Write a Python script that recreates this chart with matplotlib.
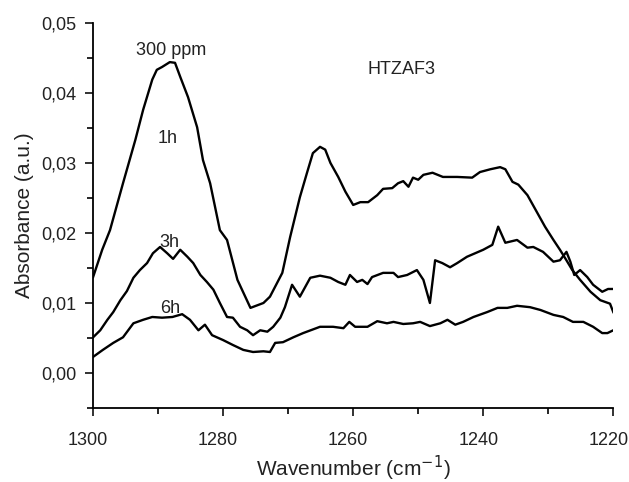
import matplotlib
matplotlib.use("Agg")
import matplotlib.pyplot as plt
import matplotlib.transforms as mtransforms
from matplotlib.ticker import MultipleLocator, FuncFormatter

plt.rcParams['font.family'] = ['Liberation Sans', 'DejaVu Sans']

# Spectra (wavenumber in cm-1, absorbance in a.u.)
wn_1h = [1300.0, 1298.6, 1297.4, 1295.4, 1293.5, 1292.3, 1290.9, 1290.2, 1289.4, 1288.2,
         1287.4, 1286.6, 1285.4, 1284.0, 1283.1, 1282.0, 1280.5, 1279.4, 1277.8, 1275.8,
         1273.8, 1272.8, 1270.9, 1269.7, 1268.2, 1267.1, 1266.2, 1265.1, 1264.3, 1263.5,
         1262.3, 1261.2, 1260.0, 1258.9, 1257.7, 1256.3, 1255.4, 1254.0, 1253.1, 1252.3,
         1251.5, 1250.8, 1250.0, 1249.2, 1247.8, 1246.2, 1244.0, 1241.7, 1240.5, 1238.9,
         1237.4, 1236.6, 1235.5, 1234.6, 1233.2, 1231.7, 1230.5, 1229.2, 1228.2, 1227.4,
         1226.3, 1225.1, 1223.5, 1222.0, 1221.1, 1220.5, 1220.0]
abs_1h = [0.0137, 0.0176, 0.0204, 0.0271, 0.0333, 0.0376, 0.0419, 0.0433, 0.0437, 0.0444,
          0.0443, 0.0423, 0.0394, 0.0351, 0.0304, 0.0271, 0.0204, 0.0190, 0.0133, 0.0093,
          0.0100, 0.0109, 0.0143, 0.0194, 0.0251, 0.0286, 0.0314, 0.0323, 0.0319, 0.0300,
          0.0280, 0.0259, 0.0240, 0.0244, 0.0244, 0.0254, 0.0263, 0.0264, 0.0271, 0.0274,
          0.0266, 0.0279, 0.0276, 0.0283, 0.0286, 0.0280, 0.0280, 0.0279, 0.0287, 0.0291,
          0.0294, 0.0291, 0.0273, 0.0269, 0.0254, 0.0229, 0.0209, 0.0190, 0.0176, 0.0164,
          0.0147, 0.0133, 0.0116, 0.0104, 0.0101, 0.0099, 0.0087]

wn_3h = [1300.0, 1298.9, 1297.8, 1296.9, 1295.8, 1294.8, 1293.8, 1292.8, 1291.7, 1290.8,
         1289.7, 1288.6, 1287.7, 1286.6, 1285.5, 1284.6, 1283.5, 1282.5, 1281.5, 1280.5,
         1279.4, 1278.5, 1277.4, 1276.3, 1275.4, 1274.3, 1273.2, 1272.3, 1271.2, 1270.5,
         1269.4, 1268.2, 1266.6, 1265.1, 1263.5, 1262.3, 1261.2, 1260.5, 1259.4, 1258.6,
         1257.8, 1257.1, 1255.4, 1253.8, 1253.1, 1251.7, 1250.2, 1249.2, 1248.2, 1247.4,
         1246.3, 1245.1, 1244.0, 1242.5, 1240.0, 1238.6, 1237.7, 1236.6, 1234.8, 1233.2,
         1232.3, 1230.8, 1229.2, 1228.2, 1227.2, 1226.6, 1226.0, 1225.1, 1224.0, 1223.1,
         1221.7, 1220.8, 1220.0]
abs_3h = [0.0051, 0.0061, 0.0076, 0.0087, 0.0104, 0.0117, 0.0136, 0.0147, 0.0157, 0.0171,
          0.0180, 0.0171, 0.0163, 0.0176, 0.0166, 0.0157, 0.0140, 0.0130, 0.0119, 0.0100,
          0.0080, 0.0079, 0.0066, 0.0061, 0.0054, 0.0061, 0.0059, 0.0066, 0.0079, 0.0094,
          0.0126, 0.0109, 0.0136, 0.0139, 0.0136, 0.0130, 0.0126, 0.0140, 0.0130, 0.0133,
          0.0127, 0.0137, 0.0143, 0.0143, 0.0137, 0.0140, 0.0147, 0.0133, 0.0100, 0.0161,
          0.0157, 0.0151, 0.0157, 0.0166, 0.0176, 0.0183, 0.0209, 0.0186, 0.0190, 0.0179,
          0.0180, 0.0173, 0.0159, 0.0161, 0.0173, 0.0159, 0.0140, 0.0147, 0.0137, 0.0126,
          0.0116, 0.0120, 0.0120]

wn_6h = [1300.0, 1298.5, 1296.9, 1295.4, 1293.8, 1292.3, 1290.9, 1289.4, 1287.8, 1286.3,
         1285.1, 1283.8, 1282.8, 1281.7, 1280.0, 1278.5, 1276.9, 1275.4, 1273.8, 1272.8,
         1272.0, 1270.8, 1269.2, 1267.7, 1265.1, 1263.1, 1261.5, 1260.6, 1259.7, 1257.8,
         1256.3, 1254.8, 1253.8, 1252.3, 1250.8, 1249.7, 1248.2, 1246.6, 1245.5, 1244.3,
         1243.1, 1241.5, 1239.4, 1237.8, 1236.3, 1234.8, 1232.8, 1231.2, 1229.2, 1227.7,
         1226.2, 1224.6, 1223.1, 1221.7, 1220.9, 1220.0]
abs_6h = [0.0023, 0.0033, 0.0043, 0.0051, 0.0071, 0.0076, 0.0080, 0.0079, 0.0080, 0.0084,
          0.0076, 0.0061, 0.0069, 0.0054, 0.0047, 0.0040, 0.0033, 0.0030, 0.0031, 0.0030,
          0.0043, 0.0044, 0.0051, 0.0057, 0.0066, 0.0066, 0.0064, 0.0073, 0.0066, 0.0066,
          0.0074, 0.0071, 0.0073, 0.0070, 0.0071, 0.0073, 0.0067, 0.0071, 0.0076, 0.0069,
          0.0073, 0.0080, 0.0087, 0.0093, 0.0093, 0.0096, 0.0094, 0.0090, 0.0083, 0.0080,
          0.0073, 0.0073, 0.0066, 0.0057, 0.0057, 0.0061]

# in-plot annotations: (text, wavenumber, absorbance at baseline)
labels = [('300 ppm', 1288.0, 0.0454),
          ('HTZAF3', 1252.5, 0.0427),
          ('1h', 1288.5, 0.0329),
          ('3h', 1288.2, 0.0180),
          ('6h', 1288.2, 0.0086)]


def comma(v, pos):
    return f"{v:.2f}".replace(".", ",")


fig = plt.figure(figsize=(6.29, 4.82), dpi=100)
ax = fig.add_axes([0.148, 0.1535, 0.827, 0.799])

for wn, ab in [(wn_1h, abs_1h), (wn_3h, abs_3h), (wn_6h, abs_6h)]:
    ax.plot(wn, ab, color='black', lw=1.7)

ax.set_xlim(1300, 1220)
ax.set_ylim(-0.005, 0.05)
ax.spines['top'].set_visible(False)
ax.spines['right'].set_visible(False)
ax.spines['left'].set_linewidth(1.3)
ax.spines['bottom'].set_linewidth(1.3)

ax.xaxis.set_major_locator(MultipleLocator(20))
ax.xaxis.set_minor_locator(MultipleLocator(10))
ax.yaxis.set_major_locator(MultipleLocator(0.01))
ax.yaxis.set_minor_locator(MultipleLocator(0.005))
ax.yaxis.set_major_formatter(FuncFormatter(comma))
ax.tick_params(which='major', length=6, width=1.3, labelsize=13, colors='#222222')
ax.tick_params(which='minor', length=4, width=1.2)
ax.tick_params(axis='y', pad=6)
ax.tick_params(axis='x', pad=11)

# x tick labels sit slightly left of their ticks in the original
shift = mtransforms.ScaledTranslation(-5 / 100, 0, fig.dpi_scale_trans)
for lab in ax.get_xticklabels():
    lab.set_transform(lab.get_transform() + shift)

ax.set_xlabel('Wavenumber (cm$^{-1}$)', fontsize=15, color='#222222', labelpad=4)
ax.set_ylabel('Absorbance (a.u.)', fontsize=15, color='#222222', labelpad=5)

for txt, x, y in labels:
    ax.text(x, y, txt, fontsize=13, ha='center', va='baseline', color='#222222')

fig.savefig('out.png', dpi=100)
